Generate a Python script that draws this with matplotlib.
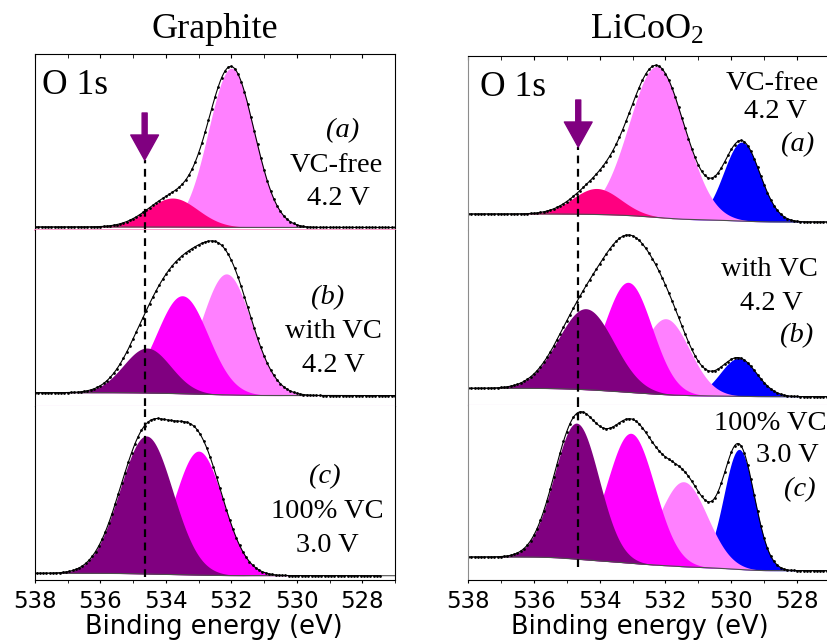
import numpy as np
import matplotlib.pyplot as plt

plt.rcParams['mathtext.fontset'] = 'custom'
plt.rcParams['mathtext.rm'] = 'Liberation Serif'
plt.rcParams['mathtext.it'] = 'Liberation Serif:italic'

W, H = 827, 644

# colores de las componentes
rosa = '#FF80FF'
fucsia = '#FF0080'
magenta = '#FF00FF'
morado = '#800080'
azul = '#0000FF'

# Grafito: componentes (centro eV, altura px, FWHM eV), fondo (lado 527, lado 538)
gr_a_centros = [532.0, 533.8]
gr_a_alturas = [159, 29]
gr_a_anchos = [1.65, 1.8]
gr_a_colores = [rosa, fucsia]
gr_a_fondo = [2.5, 3.0]

gr_b_centros = [532.15, 533.5, 534.58]
gr_b_alturas = [121, 98, 45]
gr_b_anchos = [1.8, 1.85, 1.7]
gr_b_colores = [rosa, magenta, morado]
gr_b_fondo = [10.0, 12.9]

gr_c_centros = [533.0, 534.6]
gr_c_alturas = [124, 138]
gr_c_anchos = [1.75, 1.9]
gr_c_colores = [magenta, morado]
gr_c_fondo = [4.3, 6.7]

# LiCoO2
lc_a_centros = [529.68, 532.26, 534.09]
lc_a_alturas = [79, 151, 26]
lc_a_anchos = [1.3, 2.0, 1.7]
lc_a_colores = [azul, rosa, fucsia]
lc_a_fondo = [8.0, 16.0]

lc_b_centros = [529.78, 531.99, 533.13, 534.42]
lc_b_alturas = [38, 76, 110, 81]
lc_b_anchos = [1.3, 1.7, 1.7, 2.0]
lc_b_colores = [azul, rosa, magenta, morado]
lc_b_fondo = [8.3, 16.7]

lc_c_centros = [529.76, 531.45, 533.05, 534.70]
lc_c_alturas = [120, 85, 130, 136]
lc_c_anchos = [1.1, 1.7, 1.7, 1.6]
lc_c_colores = [azul, rosa, magenta, morado]
lc_c_fondo = [9.3, 23.0]

e_marca = 534.65
ticks_mayores = [538, 536, 534, 532, 530, 528]


def modelo(e, centros, alturas, anchos):
    return [h * np.exp(-4 * np.log(2) * (e - c) ** 2 / w ** 2)
            for c, h, w in zip(centros, alturas, anchos)]


def panel(ax, centros, alturas, anchos, colores, fondo, e_fin=527.0):
    e = np.linspace(527, 538, 1101)
    picos = modelo(e, centros, alturas, anchos)
    total = np.sum(picos, axis=0)
    acum = np.cumsum(total)
    acum = acum / acum[-1]
    bg = fondo[0] + (fondo[1] - fondo[0]) * acum
    for p, col in zip(picos, colores):
        ax.fill_between(e, bg, bg + p, color=col, lw=0)
    ax.plot(e, bg, color='0.3', lw=0.8)
    m = e >= e_fin
    ax.plot(e[m], (bg + total)[m], color='k', lw=0.8)
    ed = np.arange(e_fin, 538.001, 0.1)
    td = np.sum(modelo(ed, centros, alturas, anchos), axis=0)
    bd = np.interp(ed, e, bg)
    ax.plot(ed, bd + td, 'o', color='k', ms=2.0, mew=0)


def ejes(x0, x1, y0, y1):
    ax = fig.add_axes([x0 / W, 1 - y1 / H, (x1 - x0) / W, (y1 - y0) / H])
    ax.set_xlim(538, 527)
    ax.set_ylim(0, y1 - y0)
    ax.set_yticks([])
    ax.set_xticks(ticks_mayores)
    ax.set_xticks(np.arange(527, 539, 1), minor=True)
    ax.tick_params(axis='x', which='both', bottom=False, top=False,
                   labelbottom=False)
    return ax


def px(x, y):
    return x / W, 1 - y / H


fig = plt.figure(figsize=(W / 100, H / 100), dpi=100)

# columna izquierda (grafito) y derecha (LiCoO2)
filas_g = [(54, 230), (230, 405.6), (405.6, 580)]
filas_l = [(56, 230), (230, 405), (405, 580)]
axg = [ejes(35, 395, a, b) for a, b in filas_g]
axl = [ejes(468, 830, a, b) for a, b in filas_l]

panel(axg[0], gr_a_centros, gr_a_alturas, gr_a_anchos, gr_a_colores, gr_a_fondo)
panel(axg[1], gr_b_centros, gr_b_alturas, gr_b_anchos, gr_b_colores, gr_b_fondo)
panel(axg[2], gr_c_centros, gr_c_alturas, gr_c_anchos, gr_c_colores, gr_c_fondo,
      e_fin=527.45)
panel(axl[0], lc_a_centros, lc_a_alturas, lc_a_anchos, lc_a_colores, lc_a_fondo)
panel(axl[1], lc_b_centros, lc_b_alturas, lc_b_anchos, lc_b_colores, lc_b_fondo)
panel(axl[2], lc_c_centros, lc_c_alturas, lc_c_anchos, lc_c_colores, lc_c_fondo)

# bordes entre paneles
for col, sep1, sep2, izq in [(axg, '#ff99cc', '#dd88dd', 'k'),
                             (axl, 'none', '#ddaadd', '0.55')]:
    col[0].spines['bottom'].set_color(sep1)
    col[0].spines['bottom'].set_linewidth(1.3)
    col[1].spines['top'].set_visible(False)
    col[1].spines['bottom'].set_color(sep2)
    col[2].spines['top'].set_visible(False)
    for ax in col:
        ax.spines['left'].set_color(izq)
    col[0].tick_params(axis='x', which='both', top=True, direction='in',
                       length=3)
    col[2].tick_params(axis='x', which='both', bottom=True, direction='out',
                       length=2.5, labelbottom=True, labelsize=16.5, pad=5)

# linea punteada y flecha
for col, tope, pie in [(axg, 70, 3), (axl, 83, 13)]:
    alt = [a.get_ylim()[1] for a in col]
    col[0].plot([e_marca, e_marca], [0, tope], color='k', lw=1.6,
                ls=(0, (3.5, 2.5)))
    col[1].plot([e_marca, e_marca], [0, alt[1]], color='k', lw=1.6,
                ls=(0, (3.5, 2.5)))
    col[2].plot([e_marca, e_marca], [pie, alt[2]], color='k', lw=1.6,
                ls=(0, (3.5, 2.5)))
    col[0].annotate('', xy=(e_marca, tope), xytext=(e_marca, tope + 47),
                    arrowprops=dict(arrowstyle='simple,head_length=0.9,head_width=1.0,tail_width=0.18',
                                    color=morado, mutation_scale=20,
                                    shrinkA=0, shrinkB=0))

serif = 'Liberation Serif'
fig.text(*px(215, 30), 'Graphite', ha='center', va='center', family=serif, size=26)
fig.text(*px(647, 30), 'LiCoO$_2$', ha='center', va='center', family=serif, size=26)
fig.text(*px(42, 86), 'O 1s', ha='left', va='center', family=serif, size=25.5)
fig.text(*px(480, 88), 'O 1s', ha='left', va='center', family=serif, size=25.5)

etiquetas = [
    ('(a)', 343, 131, True), ('VC-free', 336, 165, False), ('4.2 V', 338, 199, False),
    ('(b)', 328, 298, True), ('with VC', 333, 332, False), ('4.2 V', 333, 366, False),
    ('(c)', 325, 477, True), ('100% VC', 327, 511, False), ('3.0 V', 327, 545, False),
    ('VC-free', 772, 84, False), ('4.2 V', 775, 112, False), ('(a)', 798, 145, True),
    ('with VC', 769, 270, False), ('4.2 V', 771, 303, False), ('(b)', 797, 336, True),
    ('100% VC', 770, 424, False), ('3.0 V', 787, 455, False), ('(c)', 800, 490, True),
]
for txt, x, y, it in etiquetas:
    fig.text(*px(x, y), txt, ha='center', va='center', family=serif, size=20.5,
             style='italic' if it else 'normal')

fig.text(*px(214, 627), 'Binding energy (eV)', ha='center', va='center', size=18.5)
fig.text(*px(640, 627), 'Binding energy (eV)', ha='center', va='center', size=18.5)

fig.savefig('out.png', dpi=100)
